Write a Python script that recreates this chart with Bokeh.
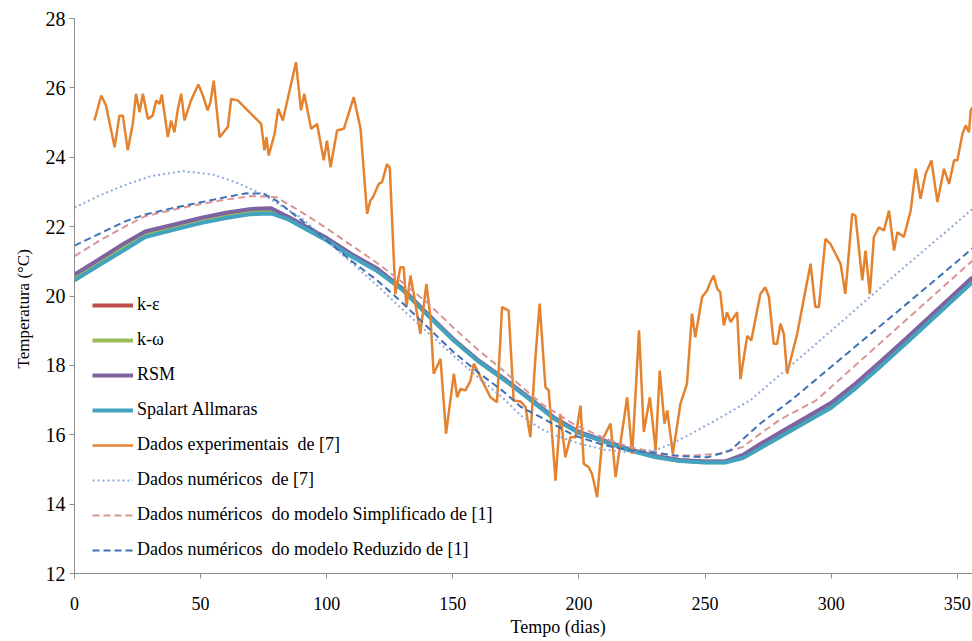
from bokeh.plotting import figure
from bokeh.models import Range1d, Legend, LegendItem, Title, FixedTicker
from bokeh.embed import file_html
from bokeh.resources import INLINE

# ---------------- data ----------------
model_days = [0, 10, 20, 28, 40, 50, 60, 70, 78, 85, 90, 100, 110, 120, 130, 140, 150, 160, 170,
              180, 190, 200, 210, 220, 230, 240, 250, 258, 265, 272, 280, 290, 300, 310, 320, 330,
              340, 350, 356]
k_eps = [20.56, 21.02, 21.47, 21.79, 22.01, 22.19, 22.34, 22.45, 22.47, 22.27, 22.06, 21.66, 21.19,
         20.77, 20.21, 19.47, 18.76, 18.14, 17.62, 17.07, 16.49, 16.07, 15.82, 15.57, 15.38, 15.26,
         15.22, 15.22, 15.37, 15.68, 16.02, 16.45, 16.87, 17.45, 18.09, 18.75, 19.42, 20.09, 20.49]
k_omega = [20.51, 20.97, 21.43, 21.75, 21.97, 22.15, 22.30, 22.41, 22.43, 22.24, 22.03, 21.63, 21.16,
           20.75, 20.20, 19.46, 18.75, 18.13, 17.61, 17.06, 16.48, 16.06, 15.81, 15.56, 15.37, 15.25,
           15.21, 15.21, 15.35, 15.65, 15.99, 16.41, 16.83, 17.41, 18.05, 18.71, 19.38, 20.05, 20.45]
rsm = [20.62, 21.07, 21.53, 21.86, 22.07, 22.25, 22.40, 22.51, 22.53, 22.27, 22.07, 21.67, 21.20,
       20.79, 20.21, 19.48, 18.77, 18.15, 17.63, 17.08, 16.50, 16.08, 15.83, 15.58, 15.39, 15.27,
       15.23, 15.23, 15.42, 15.74, 16.08, 16.50, 16.92, 17.50, 18.14, 18.80, 19.47, 20.14, 20.54]
spalart = [20.45, 20.90, 21.34, 21.70, 21.92, 22.10, 22.25, 22.36, 22.38, 22.20, 22.00, 21.60, 21.13,
           20.72, 20.18, 19.45, 18.74, 18.12, 17.60, 17.05, 16.47, 16.05, 15.80, 15.55, 15.36, 15.24,
           15.20, 15.20, 15.33, 15.62, 15.95, 16.37, 16.78, 17.36, 18.00, 18.66, 19.33, 20.00, 20.40]

exp_days = [7.9, 10.6, 12.5, 15.9, 17.8, 19.2, 21.1, 23.1, 24.4, 25.8, 27.1, 29.1, 31.0, 32.4, 33.7,
            34.6, 37.0, 38.3, 39.6, 41.0, 42.3, 43.6, 46.2, 49.1, 50.9, 52.8, 53.9, 55.2, 57.5, 60.8,
            62.1, 64.7, 74.0, 75.3, 76.1, 77.0, 79.3, 80.8, 82.6, 87.8, 89.8, 91.1, 93.8, 96.2, 98.8,
            100.1, 101.5, 104.1, 106.8, 110.7, 113.4, 116.0, 117.3, 118.3, 120.6, 121.9, 123.9, 125.0,
            127.2, 129.2, 130.5, 131.6, 133.2, 134.5, 137.1, 139.5, 141.1, 142.4, 145.1, 147.3, 150.4,
            151.7, 153.0, 155.0, 157.0, 158.3, 161.6, 164.9, 167.5, 169.5, 172.1, 174.1, 176.8, 178.8,
            180.7, 182.7, 184.4, 186.7, 188.0, 190.7, 192.6, 194.6, 196.6, 198.6, 200.6, 201.9, 203.8,
            205.2, 207.2, 209.2, 210.5, 212.5, 214.5, 216.4, 219.1, 221.1, 223.8, 225.7, 228.1, 230.4,
            232.0, 233.9, 235.0, 237.2, 240.2, 242.8, 244.8, 246.1, 248.8, 250.8, 252.1, 253.4, 254.8,
            256.0, 257.4, 258.7, 260.1, 262.7, 264.0, 266.7, 268.3, 271.9, 273.9, 275.3, 277.2, 278.5,
            279.9, 281.2, 282.5, 286.5, 291.8, 293.7, 295.1, 297.7, 299.7, 303.7, 305.6, 308.3, 309.6,
            312.3, 313.6, 315.3, 316.9, 318.9, 320.9, 322.9, 324.9, 326.2, 328.8, 331.5, 333.5, 335.4,
            337.4, 339.7, 342.1, 344.7, 346.7, 348.7, 350.0, 352.0, 353.3, 354.6, 355.3, 356.0]
exp_temp = [25.06, 25.78, 25.49, 24.29, 25.20, 25.20, 24.20, 24.96, 25.83, 25.30, 25.83, 25.10, 25.20,
            25.64, 25.54, 25.81, 24.58, 25.06, 24.72, 25.40, 25.83, 25.06, 25.64, 26.10, 25.78, 25.35,
            25.59, 26.21, 24.58, 24.87, 25.68, 25.64, 24.96, 24.20, 24.58, 24.05, 24.67, 25.40, 25.06,
            26.74, 25.35, 25.83, 24.82, 24.96, 23.91, 24.48, 23.71, 24.77, 24.82, 25.73, 24.82, 22.37,
            22.75, 22.85, 23.23, 23.28, 23.80, 23.70, 20.06, 20.83, 20.83, 19.68, 20.59, 20.06, 18.91,
            20.35, 19.39, 17.76, 18.19, 16.03, 17.76, 17.08, 17.32, 17.28, 17.56, 18.05, 17.56, 17.08,
            16.94, 19.68, 19.58, 16.99, 16.96, 16.80, 15.93, 18.20, 19.78, 17.37, 17.28, 14.68, 16.60,
            15.35, 15.93, 15.93, 16.84, 15.16, 15.07, 14.87, 14.20, 15.84, 16.03, 16.32, 14.78, 15.74,
            17.08, 15.45, 19.01, 16.08, 17.08, 15.55, 17.85, 16.32, 16.70, 15.45, 16.89, 17.47, 19.49,
            18.81, 19.97, 20.16, 20.40, 20.59, 20.21, 20.11, 19.15, 19.53, 19.25, 19.53, 17.60, 18.85,
            18.72, 20.06, 20.25, 19.97, 18.62, 18.62, 19.20, 18.91, 17.76, 18.91, 20.93, 19.68, 19.68,
            21.65, 21.50, 20.93, 20.06, 22.37, 22.32, 20.45, 21.31, 20.06, 21.70, 21.98, 21.89, 22.46,
            21.31, 21.84, 21.70, 22.46, 23.67, 22.80, 23.52, 23.91, 22.71, 23.67, 23.23, 23.91, 23.91,
            24.67, 24.92, 24.72, 25.35, 25.44]

num7_days = [0, 10, 20, 30, 43, 55, 65, 74, 82, 90, 100, 110, 120, 129, 140, 150, 160, 170, 177, 185,
             190, 200, 210, 218, 230, 237, 245, 255, 268, 280, 290, 300, 315, 330, 345, 356]
num7_temp = [22.55, 22.90, 23.20, 23.45, 23.60, 23.50, 23.25, 22.95, 22.60, 22.25, 21.60, 20.95, 20.30,
             19.68, 18.95, 18.30, 17.65, 17.05, 16.55, 16.17, 16.00, 15.75, 15.57, 15.50, 15.55, 15.75,
             16.05, 16.45, 17.00, 17.75, 18.37, 19.00, 19.95, 20.90, 21.82, 22.51]

simp_days = [0, 10, 20, 28, 40, 50, 60, 70, 80, 90, 100, 110, 120, 129, 140, 150, 160, 170, 177, 185,
             198, 210, 220, 230, 237, 245, 256, 265, 272, 280, 294, 310, 320, 330, 340, 350, 356]
simp_temp = [21.15, 21.60, 22.00, 22.30, 22.50, 22.65, 22.78, 22.88, 22.85, 22.42, 21.95, 21.45, 20.95,
             20.45, 19.80, 19.10, 18.45, 17.85, 17.40, 16.90, 16.30, 15.90, 15.65, 15.50, 15.40, 15.40,
             15.45, 15.65, 16.04, 16.45, 16.99, 18.03, 18.68, 19.33, 19.98, 20.63, 21.02]

red_days = [0, 10, 20, 28, 40, 50, 60, 68, 75, 80, 90, 100, 110, 120, 129, 140, 150, 160, 170, 177,
            185, 198, 210, 220, 230, 240, 251, 260, 272, 284, 300, 310, 320, 330, 340, 350, 356]
red_temp = [21.45, 21.80, 22.15, 22.35, 22.55, 22.70, 22.85, 22.96, 22.95, 22.75, 22.18, 21.60, 21.00,
            20.45, 19.87, 19.10, 18.40, 17.80, 17.25, 16.80, 16.50, 15.98, 15.70, 15.55, 15.48, 15.38,
            15.35, 15.55, 16.33, 16.99, 17.96, 18.57, 19.17, 19.78, 20.39, 21.00, 21.38]

x_ticks = [0, 50, 100, 150, 200, 250, 300, 350]
y_ticks = [12, 14, 16, 18, 20, 22, 24, 26, 28]

FONT = "Liberation Serif, DejaVu Serif, serif"
AXIS_GREY = "#8c8c8c"

p = figure(width=972, height=641, output_backend="svg", toolbar_location=None,
           x_range=Range1d(0, 356), y_range=Range1d(12, 28),
           min_border_left=74, min_border_right=0, min_border_top=18, min_border_bottom=68)
p.outline_line_color = None
p.xgrid.visible = False
p.ygrid.visible = False
p.background_fill_color = "white"

for ax in (p.xaxis[0], p.yaxis[0]):
    ax.axis_line_color = AXIS_GREY
    ax.major_tick_line_color = AXIS_GREY
    ax.major_tick_out = 5
    ax.major_tick_in = 0
    ax.minor_tick_line_color = None
    ax.major_label_text_font = FONT
    ax.major_label_text_color = "black"

p.xaxis.ticker = FixedTicker(ticks=x_ticks)
p.yaxis.ticker = FixedTicker(ticks=y_ticks)
p.xaxis.major_label_text_font_size = "18px"
p.yaxis.major_label_text_font_size = "20px"
p.xaxis.major_label_standoff = 18
p.yaxis.major_label_standoff = 4

r_keps = p.line(model_days, k_eps, line_color="#BE4B48", line_width=4)
r_kom = p.line(model_days, k_omega, line_color="#9BBB59", line_width=4)
r_rsm = p.line(model_days, rsm, line_color="#7F62A0", line_width=4)
r_sa = p.line(model_days, spalart, line_color="#43A3BE", line_width=4)
r_exp = p.line(exp_days, exp_temp, line_color="#E4832F", line_width=2.5)
r_n7 = p.line(num7_days, num7_temp, line_color="#8FAAD6", line_width=2, line_dash="2 3")
r_simp = p.line(simp_days, simp_temp, line_color="#D99694", line_width=2, line_dash="7 4")
r_red = p.line(red_days, red_temp, line_color="#3F72B3", line_width=2, line_dash="7 4")

items = [
    LegendItem(label="k-ε", renderers=[r_keps]),
    LegendItem(label="k-ω", renderers=[r_kom]),
    LegendItem(label="RSM", renderers=[r_rsm]),
    LegendItem(label="Spalart Allmaras", renderers=[r_sa]),
    LegendItem(label="Dados experimentais  de [7]", renderers=[r_exp]),
    LegendItem(label="Dados numéricos  de [7]", renderers=[r_n7]),
    LegendItem(label="Dados numéricos  do modelo Simplificado de [1]", renderers=[r_simp]),
    LegendItem(label="Dados numéricos  do modelo Reduzido de [1]", renderers=[r_red]),
]
legend = Legend(items=items, location=(18, 13), padding=0, margin=0, spacing=14,
                glyph_width=41, glyph_height=20, label_height=20, label_standoff=4,
                border_line_color=None, background_fill_alpha=0,
                label_text_font=FONT, label_text_font_size="18px", label_text_color="black")
p.add_layout(legend)

p.add_layout(Title(text="Temperatura (°C)", align="left", offset=205, standoff=19,
                   text_font=FONT, text_font_size="17px", text_font_style="normal",
                   text_color="black"), "left")
p.add_layout(Title(text="Tempo (dias)", align="left", offset=436, standoff=5,
                   text_font=FONT, text_font_size="18px", text_font_style="normal",
                   text_color="black"), "below")

open("out.html", "w").write(file_html(p, INLINE))
